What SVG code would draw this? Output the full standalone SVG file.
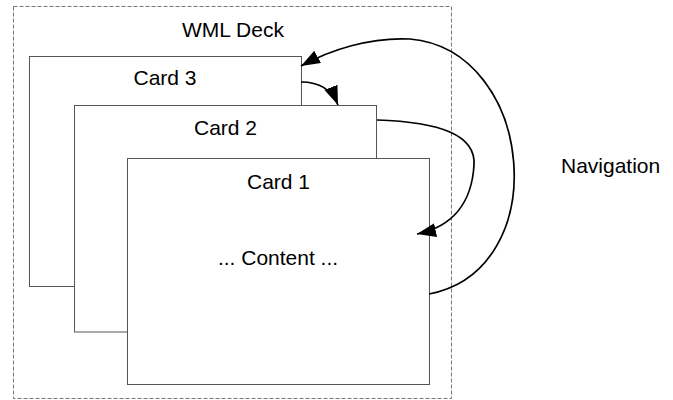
<svg xmlns="http://www.w3.org/2000/svg" width="673" height="400" viewBox="0 0 673 400">
<style>
.card{fill:#fff;stroke:#555;stroke-width:1}
.lbl{font-family:"Liberation Sans",Arial,sans-serif;font-size:21px;fill:#000}
.conn{fill:none;stroke:#000;stroke-width:1.7}
</style>
<defs>
<marker id="ah" markerUnits="userSpaceOnUse" markerWidth="20" markerHeight="15" refX="19" refY="7" orient="auto">
<path d="M0,0 L19,7 L0,14 z" fill="#000"/>
</marker>
</defs>
<rect width="673" height="400" fill="#fff"/>
<g id="deck">
<rect x="13.5" y="6.5" width="438" height="392" fill="none" stroke="#777" stroke-dasharray="4,2"/>
<text class="lbl" x="233" y="36.5" text-anchor="middle">WML Deck</text>
</g>
<g id="card3">
<rect class="card" x="29.5" y="56.5" width="272" height="230"/>
<text class="lbl" x="165" y="85" text-anchor="middle">Card 3</text>
</g>
<g id="card2">
<rect class="card" x="74.5" y="105.5" width="302" height="226.5"/>
<text class="lbl" x="225.5" y="135" text-anchor="middle">Card 2</text>
</g>
<g id="card1">
<rect class="card" x="127.5" y="158.5" width="302" height="226"/>
<text class="lbl" x="278.5" y="189" text-anchor="middle">Card 1</text>
<text class="lbl" x="278" y="265" text-anchor="middle">... Content ...</text>
</g>
<g id="navigation">
<text class="lbl" x="561" y="172.5">Navigation</text>
</g>
<g id="connectors">
<path class="conn" d="M429,294 C555,270 535,50 410,39 C370,37 330,50 301,66" marker-end="url(#ah)"/>
<path class="conn" d="M301,82 C320,82 332,90 338,105" marker-end="url(#ah)"/>
<path class="conn" d="M377,120 C440,122 476,135 474,165 C472,200 455,226 417,234" marker-end="url(#ah)"/>
</g>
</svg>
